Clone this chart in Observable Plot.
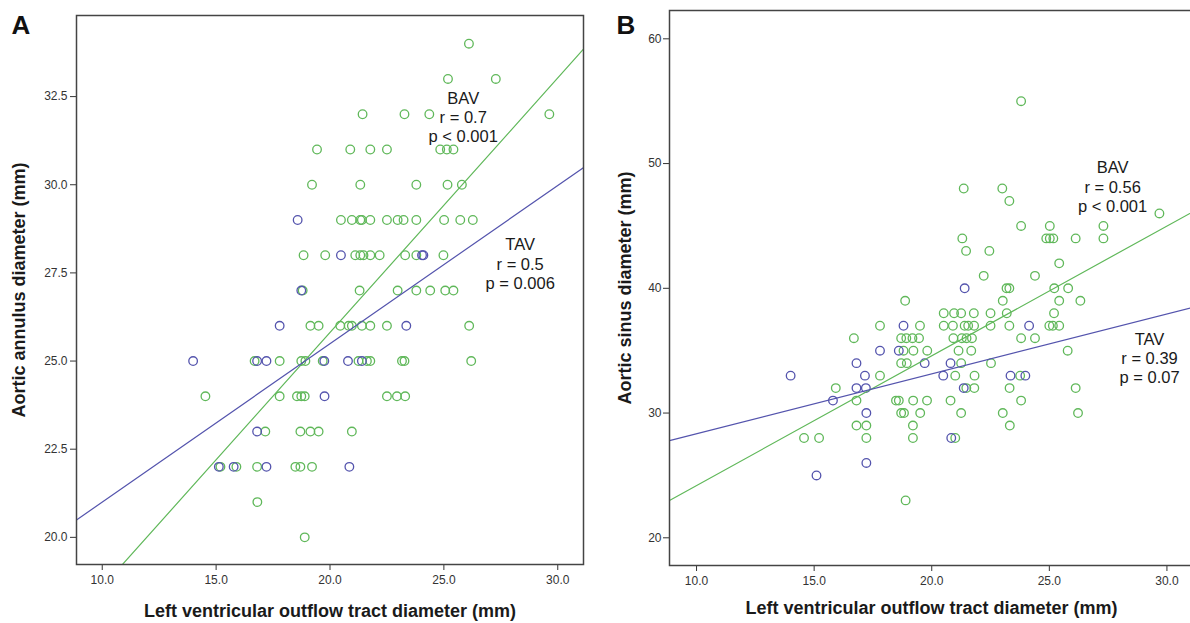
<!DOCTYPE html>
<html><head><meta charset="utf-8">
<script src="https://cdn.jsdelivr.net/npm/d3@7"></script>
<script src="https://cdn.jsdelivr.net/npm/@observablehq/plot@0.6"></script>
<style>
html,body{margin:0;padding:0;background:#fff;overflow:hidden;width:1190px;height:623px}
#wrap{position:relative;width:1193px;height:623px}
#a{position:absolute;left:0;top:0}
#b{position:absolute;left:600px;top:0}
</style></head><body><div id="wrap"><div id="a"></div><div id="b"></div></div>
<script>
// ---- data ----
const lvotTicks = [10, 15, 20, 25, 30];
const annulusTicks = [20, 22.5, 25, 27.5, 30, 32.5];
const sinusTicks = [20, 30, 40, 50, 60];
const groups = ["BAV", "TAV"];

// Panel A: LVOT diameter (x) vs aortic annulus diameter (y), mm
const annulusBAV = [
  [26.1,34],
  [25.18,33],[27.28,33],
  [21.43,32],[23.27,32],[24.36,32],[29.63,32],
  [19.43,31],[20.89,31],[21.77,31],[22.5,31],[24.84,31],[25.13,31],[25.42,31],
  [19.21,30],[21.33,30],[23.79,30],[25.16,30],[25.79,30],
  [20.48,29],[20.96,29],[21.33,29],[21.4,29],[21.77,29],[22.5,29],[22.97,29],[23.23,29],[23.79,29],[25.01,29],[25.72,29],[26.27,29],
  [18.84,28],[19.79,28],[21.11,28],[21.33,28],[21.47,28],[21.77,28],[22.18,28],[23.3,28],[23.79,28],[24.98,28],
  [18.8,27],[21.3,27],[22.97,27],[23.79,27],[24.4,27],[25.06,27],[25.42,27],
  [19.14,26],[19.5,26],[20.45,26],[20.82,26],[20.96,26],[21.4,26],[21.77,26],[22.5,26],[26.11,26],
  [16.69,25],[17.79,25],[18.74,25],[18.92,25],[19.68,25],[21.25,25],[21.62,25],[21.77,25],[23.16,25],[23.27,25],[26.2,25],
  [14.53,24],[17.79,24],[18.55,24],[18.74,24],[18.89,24],[22.5,24],[22.94,24],[23.3,24],
  [17.16,23],[18.7,23],[19.14,23],[19.5,23],[20.96,23],
  [15.19,22],[15.89,22],[16.8,22],[18.48,22],[18.7,22],[19.21,22],
  [16.81,21],
  [18.89,20]
];
const annulusTAV = [
  [18.58,29],
  [20.48,28],[24.04,28],[24.1,28],
  [18.74,27],
  [17.79,26],[23.35,26],
  [13.99,25],[16.8,25],[17.21,25],[19.75,25],[20.79,25],[21.4,25],
  [19.76,24],
  [16.8,23],
  [15.12,22],[15.77,22],[17.21,22],[20.85,22]
];
// Panel B: LVOT diameter (x) vs aortic sinus diameter (y), mm
const sinusBAV = [
  [23.8,55],
  [21.36,48],[23.0,48],
  [23.3,47],
  [29.68,46],
  [23.8,45],[25.02,45],[27.3,45],
  [21.3,44],[24.87,44],[25.02,44],[25.17,44],[26.12,44],[27.3,44],
  [21.46,43],[22.45,43],
  [25.42,42],
  [22.21,41],[24.39,41],
  [23.18,40],[23.3,40],[25.21,40],[25.8,40],
  [18.87,39],[23.02,39],[25.42,39],[26.32,39],
  [20.51,38],[20.95,38],[21.25,38],[21.79,38],[22.5,38],[23.19,38],[25.2,38],
  [17.8,37],[19.5,37],[20.51,37],[20.9,37],[21.4,37],[21.55,37],[21.8,37],[22.5,37],[23.3,37],[25.0,37],[25.15,37],[25.42,37],
  [16.69,36],[18.7,36],[18.92,36],[19.18,36],[19.46,36],[20.92,36],[21.28,36],[21.48,36],[21.71,36],[23.8,36],[24.39,36],
  [18.8,35],[19.22,35],[19.81,35],[21.14,35],[21.68,35],[25.78,35],
  [18.7,34],[18.94,34],[21.25,34],[22.52,34],
  [17.8,33],[21.0,33],[21.82,33],[23.76,33],
  [15.92,32],[21.47,32],[21.81,32],[23.31,32],[26.12,32],
  [16.8,31],[18.48,31],[18.6,31],[19.21,31],[19.8,31],[20.8,31],[23.8,31],
  [18.7,30],[18.82,30],[19.51,30],[21.25,30],[23.02,30],[26.22,30],
  [16.8,29],[17.22,29],[19.2,29],[23.32,29],
  [14.57,28],[15.21,28],[17.22,28],[19.2,28],[21.0,28],
  [18.89,23]
];
const sinusTAV = [
  [21.4,40],
  [18.8,37],[24.14,37],
  [17.8,35],[18.6,35],
  [16.8,34],[19.7,34],[20.8,34],
  [14.0,33],[17.16,33],[20.49,33],[23.35,33],[23.98,33],
  [16.8,32],[17.2,32],[21.36,32],
  [15.8,31],
  [17.22,30],
  [20.83,28],
  [17.22,26],
  [15.1,25]
];
// fitted regression lines: [intercept, slope]
const annulusFitBAV = [11.37, 0.722];
const annulusFitTAV = [16.51, 0.449];
const sinusFitBAV = [13.79, 1.04];
const sinusFitTAV = [23.54, 0.48];
// correlation labels
const annulusStatsBAV = ["BAV", "r = 0.7", "p < 0.001"];
const annulusStatsTAV = ["TAV", "r = 0.5", "p = 0.006"];
const sinusStatsBAV = ["BAV", "r = 0.56", "p < 0.001"];
const sinusStatsTAV = ["TAV", "r = 0.39", "p = 0.07"];

// ---- styling ----
const GREEN = "#60b85a";
const BLUE = "#5454ad";
const FONT = "'Liberation Sans', Arial, Helvetica, sans-serif";
const AXIS = "#333";

function fitLine(fit, xd) {
  return xd.map(x => ({x, y: fit[0] + fit[1] * x}));
}
function toRows(arr) { return arr.map(([x, y]) => ({x, y})); }

function panel(o) {
  return Plot.plot({
    width: o.width, height: 623,
    marginTop: o.mt, marginBottom: o.mb, marginLeft: o.ml, marginRight: o.mr,
    style: {fontFamily: FONT, fontSize: "12px", color: AXIS, background: "transparent", overflow: "visible"},
    x: {domain: o.xd, ticks: lvotTicks, tickFormat: d3.format(".1f"), label: null, tickSize: 6, tickPadding: 5},
    y: {domain: o.yd, ticks: o.yTicks, tickFormat: o.yFmt, label: null, tickSize: 6, tickPadding: o.yPad},
    marks: [
      Plot.dot(toRows(o.bav), {x: "x", y: "y", r: 4.3, stroke: GREEN, fill: "none", strokeWidth: 1.3}),
      Plot.dot(toRows(o.tav), {x: "x", y: "y", r: 4.3, stroke: BLUE, fill: "none", strokeWidth: 1.3}),
      Plot.line(fitLine(o.fitBAV, o.xd), {x: "x", y: "y", stroke: GREEN, strokeWidth: 1.2, clip: true}),
      Plot.line(fitLine(o.fitTAV, o.xd), {x: "x", y: "y", stroke: BLUE, strokeWidth: 1.2, clip: true}),
      Plot.text([o.statsBAV.join("\n")], {x: () => o.posBAV[0], y: () => o.posBAV[1], text: d => d, fontSize: 16.5, fill: "#1a1a1a", lineHeight: 1.16}),
      Plot.text([o.statsTAV.join("\n")], {x: () => o.posTAV[0], y: () => o.posTAV[1], text: d => d, fontSize: 16.5, fill: "#1a1a1a", lineHeight: 1.16}),
      Plot.frame({stroke: "#444", strokeWidth: 1.5}),
      Plot.text([o.yTitle], {frameAnchor: "left", dx: o.yTitleDx, rotate: -90, textAnchor: "middle", lineAnchor: "middle", fontSize: 18, fontWeight: "bold", fill: "#1a1a1a"}),
      Plot.text(["Left ventricular outflow tract diameter (mm)"], {frameAnchor: "bottom", dy: o.xTitleDy, lineAnchor: "middle", fontSize: 18, fontWeight: "bold", fill: "#1a1a1a"}),
      Plot.text([o.letter], {frameAnchor: "top-left", dx: o.letterDx, dy: o.letterDy, textAnchor: "start", lineAnchor: "middle", fontSize: 26, fontWeight: "bold", fill: "#111"})
    ]
  });
}

document.getElementById("a").appendChild(panel({
  width: 600, mt: 15, mb: 59, ml: 76, mr: 17,
  xd: [8.87, 31.13], yd: [19.23, 34.80], yTicks: annulusTicks, yFmt: d3.format(".1f"), yPad: 3,
  bav: annulusBAV, tav: annulusTAV, fitBAV: annulusFitBAV, fitTAV: annulusFitTAV,
  statsBAV: annulusStatsBAV, statsTAV: annulusStatsTAV,
  posBAV: [25.85, 31.93], posTAV: [28.35, 27.77],
  yTitle: "Aortic annulus diameter (mm)", yTitleDx: -57, xTitleDy: 47,
  letter: "A", letterDx: -65, letterDy: 10
}));
document.getElementById("b").appendChild(panel({
  width: 593, mt: 10, mb: 58, ml: 69, mr: 0,
  xd: [8.85, 31.13], yd: [17.78, 62.27], yTicks: sinusTicks, yFmt: d3.format("d"), yPad: 2,
  bav: sinusBAV, tav: sinusTAV, fitBAV: sinusFitBAV, fitTAV: sinusFitTAV,
  statsBAV: sinusStatsBAV, statsTAV: sinusStatsTAV,
  posBAV: [27.69, 48.17], posTAV: [29.26, 34.44],
  yTitle: "Aortic sinus diameter (mm)", yTitleDx: -44, xTitleDy: 43,
  letter: "B", letterDx: -53, letterDy: 15
}));
</script></body></html>
